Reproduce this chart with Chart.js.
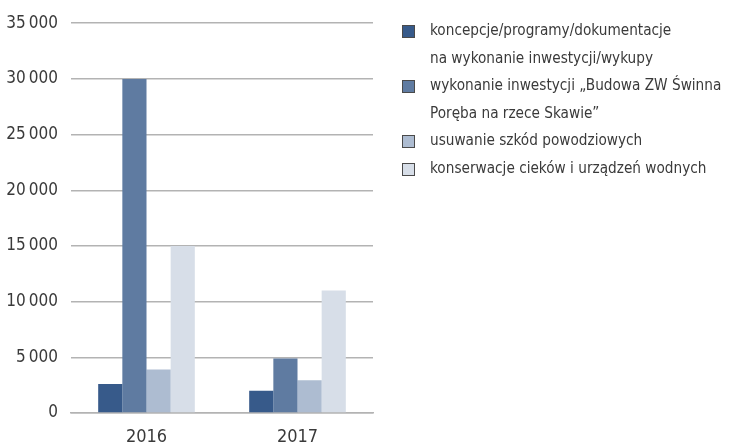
<!DOCTYPE html>
<html>
<head>
<meta charset="utf-8">
<script src="https://cdn.jsdelivr.net/npm/chart.js@4/dist/chart.umd.min.js"></script>
<style>
  html, body { margin: 0; padding: 0; background: #fff; }
  #wrap { position: relative; width: 731px; height: 448px; }
  #legend {
    position: absolute; left: 402px; top: 17px; margin: 0; padding: 0; list-style: none;
    font-family: 'DejaVu Sans Condensed', 'Liberation Sans Narrow', sans-serif;
    font-size: 15.2px; line-height: 27.5px; color: #3a3a3a;
  }
  #legend li { position: relative; padding-left: 28px; white-space: pre; }
  #legend span.box {
    position: absolute; left: 0; top: 8px; width: 11px; height: 11px;
    border: 1px solid #4a4a4a;
  }
</style>
</head>
<body>
<div id="wrap">
  <canvas id="chart" width="731" height="448"></canvas>
  <ul id="legend"></ul>
</div>
<script>
const years = ['2016', '2017'];
const seriesNames = [
  'koncepcje/programy/dokumentacje\nna wykonanie inwestycji/wykupy',
  'wykonanie inwestycji „Budowa ZW Świnna\nPoręba na rzece Skawie”',
  'usuwanie szkód powodziowych',
  'konserwacje cieków i urządzeń wodnych'
];
const koncepcje = [2600, 2000];
const budowaZW = [30000, 4900];
const szkody = [3900, 2950];
const konserwacje = [15000, 11000];
const colors = ['#375a8a', '#5f7ba1', '#adbcd1', '#d7dee8'];
const yTicks = [0, 5000, 10000, 15000, 20000, 25000, 30000, 35000];

const font = "'DejaVu Sans Condensed', 'Liberation Sans Narrow', sans-serif";
// thin space as thousands separator, like the original
const fmt = v => String(v).replace(/\B(?=(\d{3})+(?!\d))/g, '\u2009');

const values = [koncepcje, budowaZW, szkody, konserwacje];

new Chart(document.getElementById('chart'), {
  type: 'bar',
  data: {
    labels: years,
    datasets: values.map((d, i) => ({
      label: seriesNames[i],
      data: d,
      backgroundColor: colors[i],
      borderWidth: 0,
      categoryPercentage: 0.64,
      barPercentage: 1
    }))
  },
  options: {
    responsive: false,
    animation: false,
    layout: { padding: { top: 21, right: 358, bottom: 0, left: 0 } },
    plugins: { legend: { display: false }, tooltip: { enabled: false } },
    scales: {
      x: {
        grid: { display: false, drawTicks: false },
        border: { display: true, color: '#b3b3b3', width: 1.5 },
        ticks: { color: '#3a3a3a', font: { family: font, size: 18 }, padding: 14 },
        afterFit: s => { s.height = 35; }
      },
      y: {
        min: 0, max: 35000,
        afterBuildTicks: s => { s.ticks = yTicks.map(v => ({ value: v })); },
        grid: { color: '#b3b3b3', lineWidth: 1.5, drawTicks: false },
        border: { display: false },
        ticks: { color: '#3a3a3a', font: { family: font, size: 17 }, padding: 13, callback: v => fmt(v) },
        afterFit: s => { s.width = 71; }
      }
    }
  }
});

document.getElementById('legend').innerHTML = seriesNames.map((n, i) =>
  `<li><span class="box" style="background:${colors[i]}"></span>${n}</li>`).join('');
</script>
</body>
</html>
